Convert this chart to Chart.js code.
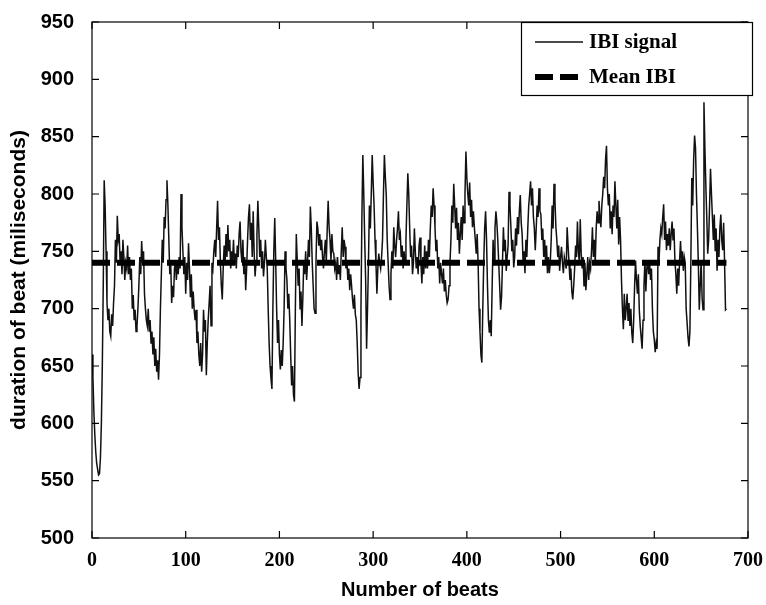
<!DOCTYPE html>
<html><head><meta charset="utf-8">
<script src="https://cdn.jsdelivr.net/npm/chart.js@4.4.1/dist/chart.umd.min.js"></script>
<style>html,body{margin:0;padding:0;background:#fff}#wrap{width:766px;height:605px}</style>
</head><body><div id="wrap"><canvas id="c" width="766" height="605"></canvas></div>
<script>
// IBI per beat (ms), beat index 0..677
const ibiSignal = [
660,640,610,590,575,565,560,555,556,570,
600,650,720,812,790,750,705,690,700,680,
676,695,685,705,720,760,740,781,760,765,
740,750,730,760,745,725,740,735,755,730,
745,725,735,700,712,690,699,680,685,700,
720,745,730,759,740,750,713,700,690,685,
700,680,690,670,680,660,675,650,665,645,
655,638,660,700,730,760,740,780,770,795,
812,790,760,730,740,705,720,710,735,742,
725,740,730,745,735,800,771,750,730,745,
713,740,725,757,735,710,730,700,715,699,
690,699,670,680,660,650,670,645,660,699,
680,690,642,670,690,705,720,685,740,735,
750,760,745,770,794,760,771,740,720,708,
735,755,740,765,745,773,750,760,735,750,
742,760,738,748,735,755,745,765,776,750,
740,760,730,745,716,735,760,780,791,760,
775,745,785,750,728,740,765,794,770,745,
760,735,750,728,740,760,745,735,700,670,
650,639,630,700,750,779,742,700,670,690,
660,647,664,650,670,700,750,735,725,700,
713,690,660,633,650,625,619,700,765,742,
720,735,700,715,685,710,742,730,750,725,
740,760,745,789,770,740,720,700,696,740,
776,770,755,765,751,760,745,735,750,760,
740,770,794,771,760,742,765,750,748,735,
740,725,745,730,738,725,750,771,745,760,
754,735,742,725,735,716,730,720,708,700,
712,695,690,670,644,630,640,700,780,834,
800,760,725,665,700,740,790,770,800,834,
810,790,760,740,713,735,748,740,735,745,
760,800,834,815,799,760,740,720,708,730,
750,735,771,755,745,760,770,785,760,765,
745,755,735,750,740,760,790,818,800,770,
745,755,730,740,770,750,735,745,730,755,
762,740,722,745,730,755,735,750,735,760,
745,770,790,780,805,790,771,750,760,735,
745,722,740,730,722,735,715,725,712,705,
708,720,740,760,790,775,809,790,770,788,
760,775,748,765,780,760,790,775,800,837,
814,800,790,810,780,795,771,785,771,760,
748,765,740,700,680,660,653,700,740,770,
785,760,720,690,679,690,676,720,760,740,
770,785,775,760,740,720,699,710,740,771,
750,760,733,745,755,802,790,771,750,760,
736,745,770,755,780,765,785,799,775,765,
740,750,731,760,745,770,790,800,811,790,
805,780,770,751,770,790,780,805,785,782,
760,770,745,760,740,755,731,745,731,740,
760,790,770,809,795,771,760,745,755,733,
745,754,740,731,745,740,735,771,755,740,
725,735,715,708,720,735,755,745,776,750,
740,778,748,735,745,720,740,716,730,745,
725,740,735,750,771,745,760,740,770,785,
775,794,780,771,790,800,815,805,830,842,
805,790,800,770,785,765,790,780,811,790,
770,795,756,780,760,725,700,682,713,690,
700,713,690,705,685,700,679,670,690,720,
742,725,713,730,699,685,675,665,690,720,
742,715,735,742,730,740,725,735,700,680,
673,662,670,665,754,740,760,770,765,780,
791,760,776,751,765,755,770,751,765,776,
760,770,742,730,713,735,720,742,759,740,
750,733,745,740,700,688,675,667,680,740,
814,790,830,851,840,800,771,740,699,720,
742,710,699,880,840,808,780,748,760,790,
822,800,780,760,782,750,770,733,760,745,
770,782,760,751,775,740,699,700
];
const beatNumbers = ibiSignal.map((_, i) => i);
const meanBeats = [0, 677];
const meanIBI = [740, 740];
const xTickValues = [0, 100, 200, 300, 400, 500, 600, 700];
const yTickValues = [500, 550, 600, 650, 700, 750, 800, 850, 900, 950];
const seriesNames = ['IBI signal', 'Mean IBI'];
const xTitle = 'Number of beats';
const yTitle = 'duration of beat (miliseconds)';

const frameAndTicks = {
  id: 'frameAndTicks',
  afterDatasetsDraw(chart) {
    const ctx = chart.ctx, a = chart.chartArea;
    const xs = chart.scales.x, ys = chart.scales.y;
    ctx.save();
    ctx.strokeStyle = '#000';
    ctx.lineWidth = 1.2;
    ctx.strokeRect(a.left, a.top, a.right - a.left, a.bottom - a.top);
    ctx.beginPath();
    const L = 7;
    xTickValues.forEach(v => {
      const px = xs.getPixelForValue(v);
      ctx.moveTo(px, a.bottom); ctx.lineTo(px, a.bottom - L);
      ctx.moveTo(px, a.top); ctx.lineTo(px, a.top + L);
    });
    yTickValues.forEach(v => {
      const py = ys.getPixelForValue(v);
      ctx.moveTo(a.left, py); ctx.lineTo(a.left + L, py);
      ctx.moveTo(a.right, py); ctx.lineTo(a.right - L, py);
    });
    ctx.stroke();
    ctx.restore();
  }
};

const legendBox = {
  id: 'legendBox',
  afterDraw(chart) {
    const ctx = chart.ctx;
    const x0 = 521, y0 = 22, w = 231, h = 73;
    ctx.save();
    ctx.fillStyle = '#fff';
    ctx.fillRect(x0, y0, w, h);
    ctx.strokeStyle = '#000';
    ctx.lineWidth = 1.2;
    ctx.strokeRect(x0 + 0.5, y0 + 0.5, w, h);
    const rows = [42, 77];
    const dsList = [chart.data.datasets[0], chart.data.datasets[1]];
    dsList.forEach((ds, i) => {
      const y = rows[i];
      ctx.beginPath();
      ctx.strokeStyle = ds.borderColor;
      ctx.lineWidth = ds.borderWidth;
      ctx.setLineDash(ds.borderDash || []);
      ctx.moveTo(535, y); ctx.lineTo(583, y);
      ctx.stroke();
      ctx.setLineDash([]);
      ctx.fillStyle = '#000';
      ctx.font = 'bold 21px "Liberation Serif", "Times New Roman", serif';
      ctx.textBaseline = 'middle';
      ctx.textAlign = 'left';
      ctx.fillText(ds.label, 589, y + 1);
    });
    ctx.restore();
  }
};

new Chart(document.getElementById('c'), {
  type: 'line',
  data: {
    datasets: [
      {
        label: seriesNames[0],
        data: beatNumbers.map((b, i) => ({ x: b, y: ibiSignal[i] })),
        borderColor: '#111111',
        borderWidth: 1.5,
        pointRadius: 0,
        tension: 0,
        order: 1
      },
      {
        label: seriesNames[1],
        data: meanBeats.map((b, i) => ({ x: b, y: meanIBI[i] })),
        borderColor: '#000',
        borderWidth: 6,
        borderDash: [18, 7],
        pointRadius: 0,
        order: 0
      }
    ]
  },
  options: {
    responsive: false,
    animation: false,
    devicePixelRatio: 1,
    layout: { padding: { top: 15, right: 12, left: 0, bottom: 0 } },
    plugins: { legend: { display: false }, tooltip: { enabled: false } },
    scales: {
      x: {
        type: 'linear', min: 0, max: 700,
        afterBuildTicks: s => { s.ticks = xTickValues.map(v => ({ value: v })); },
        afterFit: s => { s.height = 67; },
        grid: { display: false },
        border: { display: false },
        ticks: { color: '#000', padding: 3, maxRotation: 0,
          font: { family: '"Liberation Serif", "Times New Roman", serif', weight: 'bold', size: 20 } },
        title: { display: true, text: xTitle, color: '#000', padding: { top: 0, bottom: 3 },
          font: { family: '"Liberation Sans", Arial, sans-serif', weight: 'bold', size: 20 } }
      },
      y: {
        type: 'linear', min: 500, max: 950,
        afterBuildTicks: s => { s.ticks = yTickValues.map(v => ({ value: v })); },
        afterFit: s => { s.width = 92; },
        grid: { display: false },
        border: { display: false },
        ticks: { color: '#000', padding: 10,
          font: { family: '"Liberation Sans", Arial, sans-serif', weight: 'bold', size: 20 } },
        title: { display: true, text: yTitle, color: '#000', padding: { top: 7, bottom: 0 },
          font: { family: '"Liberation Sans", Arial, sans-serif', weight: 'bold', size: 21 } }
      }
    }
  },
  plugins: [frameAndTicks, legendBox]
});
</script>
</body></html>
